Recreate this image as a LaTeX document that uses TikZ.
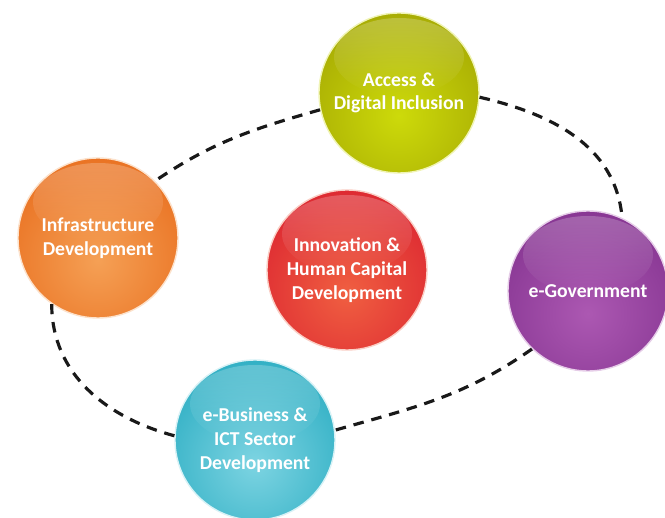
\documentclass[tikz,border=0pt]{standalone}
\usepackage{fontspec}
\setmainfont{Carlito}
\usetikzlibrary{fadings}

\definecolor{accdark}{RGB}{150,150,0}
\definecolor{acclight}{RGB}{205,218,10}
\definecolor{infdark}{RGB}{228,92,10}
\definecolor{inflight}{RGB}{245,160,85}
\definecolor{inndark}{RGB}{212,15,42}
\definecolor{innlight}{RGB}{240,95,65}
\definecolor{govdark}{RGB}{118,38,132}
\definecolor{govlight}{RGB}{172,88,178}
\definecolor{bizdark}{RGB}{12,158,182}
\definecolor{bizlight}{RGB}{125,212,226}

\tikzset{
  bubble/.style 2 args={circle, minimum size=3.2cm, inner sep=0pt, align=center,
    text=white, font=\bfseries\fontsize{11.2}{13.5}\selectfont,
    fill=#1, draw=#2!30!white, line width=0.8pt,
    path picture={
      \shade[inner color=#2, outer color=#1]
        ([yshift=-0.45cm]path picture bounding box.center) circle (3.1cm);
      \fill[white, opacity=0.22, path fading=south]
        ([yshift=0.72cm]path picture bounding box.center) ellipse (1.3cm and 0.78cm);
    }},
  link/.style={draw=black!90, line width=1.8pt, dash pattern=on 6pt off 4.5pt}
}

\begin{document}
\begin{tikzpicture}
\clip (0,0) rectangle (13.3,10.36);
\fill[white] (0,0) rectangle (13.3,10.36);

\node at (7.98,8.50) [bubble={accdark}{acclight}] (acc) {Access \&\\Digital Inclusion};
\node at (1.96,5.60) [bubble={infdark}{inflight}] (infra) {Infrastructure\\Development};
\node at (6.94,4.96) [bubble={inndark}{innlight}] (innov) {Innovation \&\\Human Capital\\Development};
\node at (11.76,4.54) [bubble={govdark}{govlight}] (egov) {e-Government};
\node at (5.10,1.56) [bubble={bizdark}{bizlight}] (ebiz) {e-Business \&\\ICT Sector\\Development};

\draw[link] (acc.192) to[out=196,in=34] (infra.45);
\draw[link] (acc.-3) to[out=-13,in=95] (egov.65);
\draw[link] (egov.226) to[out=215,in=16] (ebiz.7);
\draw[link] (ebiz.177) to[out=165,in=-90] (infra.235);
\end{tikzpicture}
\end{document}
